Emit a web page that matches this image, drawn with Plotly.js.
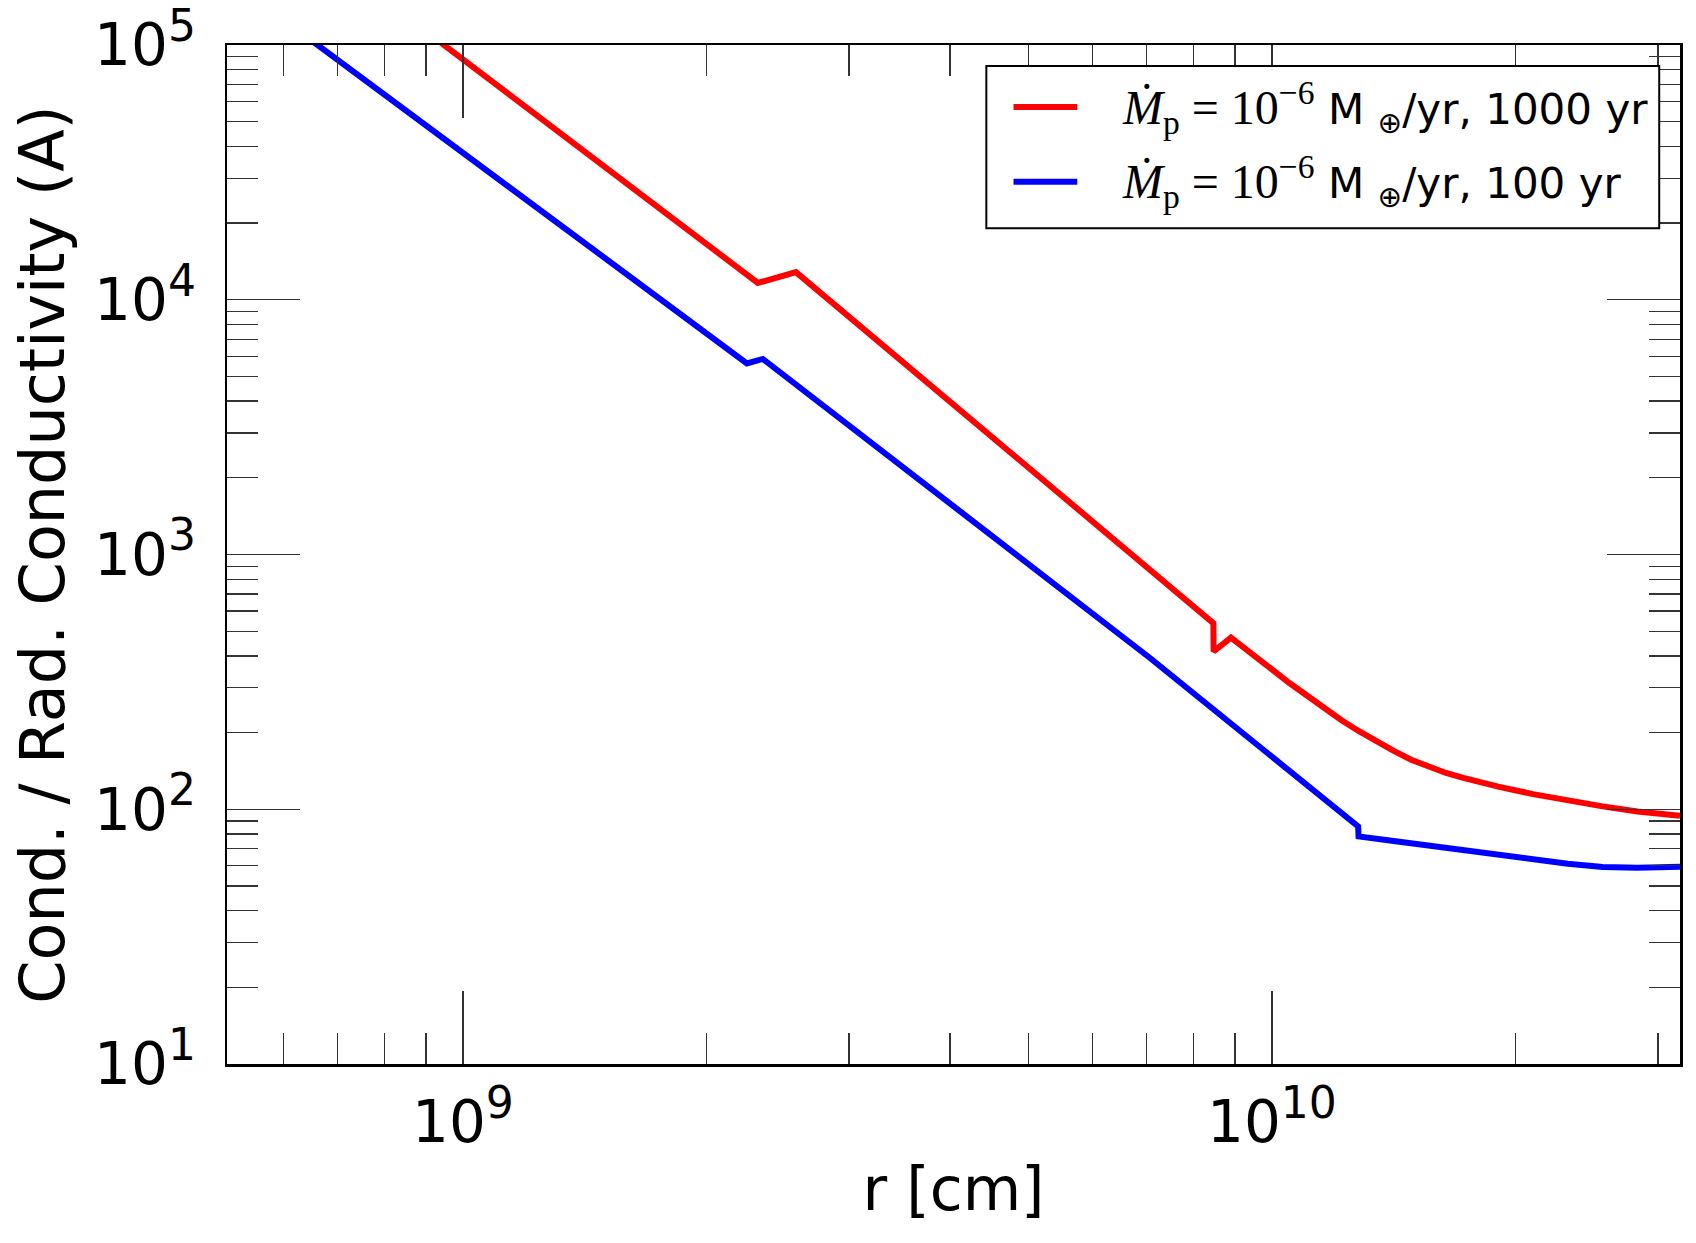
<!DOCTYPE html>
<html>
<head>
<meta charset="utf-8">
<script src="https://cdn.plot.ly/plotly-3.0.1.min.js"></script>
<style>
  html, body { margin: 0; padding: 0; background: #ffffff; }
  #chart { width: 1696px; height: 1243px; }
</style>
</head>
<body>
<div id="chart"></div>
<script>
// Radius [cm] and conductive / radiative conductivity ratio, 1000 yr run
const rRed = [5.11e8, 2.315e9, 2.58e9, 8.464e9, 8.47e9, 8.898e9, 1.051e10, 1.16e10,
              1.219e10, 1.281e10, 1.346e10, 1.414e10, 1.486e10, 1.562e10, 1.641e10,
              1.724e10, 1.812e10, 1.904e10, 2.102e10, 2.321e10, 2.563e10, 2.83e10, 3.194e10];
const condRed = [4.42e5, 1.164e4, 1.283e4, 538, 416, 472, 313, 249.3,
                 223.6, 202.5, 183.9, 169.4, 156.4, 147.4, 138.8,
                 132.8, 126.9, 122.7, 114.7, 108.3, 102.6, 98.0, 94.3];

// Same quantity, 100 yr run
const rBlue = [5.11e8, 2.244e9, 2.348e9, 4.8e9, 7.067e9, 1.278e10, 1.2795e10, 1.414e10,
               1.562e10, 1.724e10, 1.904e10, 2.102e10, 2.321e10, 2.563e10, 2.83e10, 3.194e10];
const condBlue = [1.835e5, 5628, 5857, 1013, 392.4, 85.6, 78.2, 75.0,
                  71.9, 69.2, 66.5, 63.9, 61.1, 59.4, 58.9, 59.5];

const seriesNames = [
  "<span style=\"font-family:'Liberation Serif';font-size:48px\"><i>Ṁ</i><sub>p</sub> = 10<sup>−6</sup></span> M <sub>⊕</sub>/yr, 1000 yr",
  "<span style=\"font-family:'Liberation Serif';font-size:48px\"><i>Ṁ</i><sub>p</sub> = 10<sup>−6</sup></span> M <sub>⊕</sub>/yr, 100 yr"
];
const seriesColors = ['#ff0000', '#0000ff'];

// Axis tick positions and labels
const xTickVals = [1e9, 1e10];
const xTickExp = ['9', '10'];
const yTickVals = [1e1, 1e2, 1e3, 1e4, 1e5];
const yTickExp = ['1', '2', '3', '4', '5'];

const SUP = e => '10<sup><span style="font-size:44px">' + e + '</span></sup>';

function minorLogTicks(lo, hi) {
  const out = [];
  for (let e = Math.floor(Math.log10(lo)); e <= Math.ceil(Math.log10(hi)); e++) {
    for (let m = 2; m <= 9; m++) {
      const v = m * Math.pow(10, e);
      if (v > lo && v < hi) out.push(v);
    }
  }
  return out;
}

const FONT = 'DejaVu Sans, sans-serif';
const xRange = [Math.log10(5.11e8), Math.log10(3.194e10)];
const yRange = [1, 5];

const traces = [
  { x: rRed, y: condRed, type: 'scatter', mode: 'lines', name: seriesNames[0],
    showlegend: false, line: { color: seriesColors[0], width: 6 } },
  { x: rBlue, y: condBlue, type: 'scatter', mode: 'lines', name: seriesNames[1],
    showlegend: false, line: { color: seriesColors[1], width: 6 } }
];

// Legend box drawn in paper coordinates (top-right corner of the axes)
const legendBox = { x0: 0.5226, x1: 0.9857, y0: 0.8202, y1: 0.9794 };
const legendRows = [0.9391, 0.8658];
const legendSample = [0.5413, 0.5852];
const legendTextX = 0.6143;

const shapes = [
  { type: 'rect', xref: 'paper', yref: 'paper',
    x0: legendBox.x0, x1: legendBox.x1, y0: legendBox.y0, y1: legendBox.y1,
    line: { color: '#000000', width: 2 }, fillcolor: '#ffffff', layer: 'above' }
];
const annotations = [];
legendRows.forEach((yy, i) => {
  shapes.push({ type: 'line', xref: 'paper', yref: 'paper',
    x0: legendSample[0], x1: legendSample[1], y0: yy, y1: yy,
    line: { color: seriesColors[i], width: 6 }, layer: 'above' });
  annotations.push({ xref: 'paper', yref: 'paper', x: legendTextX, y: yy,
    xanchor: 'left', yanchor: 'middle', showarrow: false, text: seriesNames[i],
    font: { family: FONT, size: 42, color: '#000000' } });
});

const axisCommon = {
  type: 'log',
  showline: true, linecolor: '#000000', linewidth: 2.5,
  mirror: 'allticks',
  ticks: 'inside', ticklen: 73, tickwidth: 1.3, tickcolor: '#333333',
  showgrid: false, zeroline: false,
  ticklabeloverflow: 'allow',
  tickfont: { family: FONT, size: 58, color: '#000000' }
};

const layout = {
  width: 1696, height: 1243,
  margin: { l: 227, r: 16, t: 45, b: 179 },
  paper_bgcolor: '#ffffff', plot_bgcolor: '#ffffff',
  font: { family: FONT, color: '#000000' },
  showlegend: false,
  shapes: shapes,
  annotations: annotations,
  xaxis: Object.assign({}, axisCommon, {
    range: xRange,
    tickvals: xTickVals, ticktext: xTickExp.map(SUP),
    ticklabelstandoff: 6,
    minor: { ticks: 'inside', ticklen: 31, tickwidth: 1.3, tickcolor: '#333333',
             tickvals: minorLogTicks(5.11e8, 3.194e10), showgrid: false },
    title: { text: 'r [cm]', font: { family: FONT, size: 60, color: '#000000' }, standoff: 13 }
  }),
  yaxis: Object.assign({}, axisCommon, {
    range: yRange,
    tickvals: yTickVals, ticktext: yTickExp.map(SUP),
    ticklabelstandoff: 17,
    minor: { ticks: 'inside', ticklen: 31, tickwidth: 1.3, tickcolor: '#333333',
             tickvals: minorLogTicks(10, 1e5), showgrid: false },
    title: { text: 'Cond. / Rad. Conductivity (A)', font: { family: FONT, size: 62, color: '#000000' }, standoff: 10 }
  })
};

Plotly.newPlot('chart', traces, layout, { staticPlot: true, displayModeBar: false });
</script>
</body>
</html>
